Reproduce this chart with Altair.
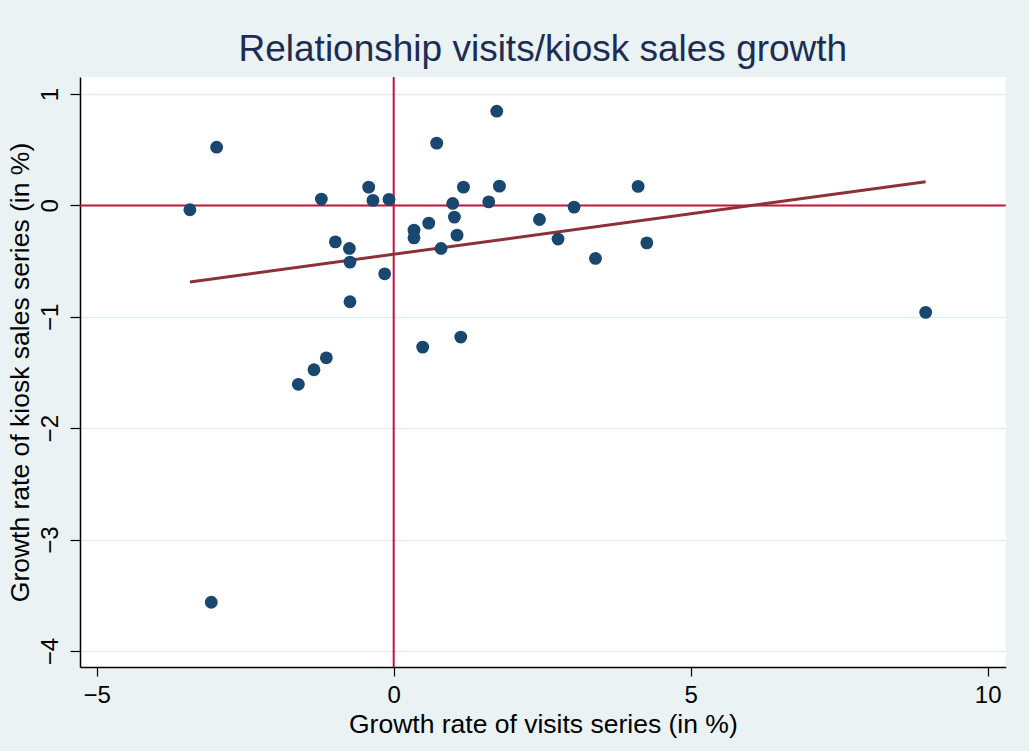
import altair as alt
import pandas as pd

# Growth rates (in %) of the visits series and the kiosk sales series
growth_visits = [
    -3.431, -2.981, -3.071, -1.605, -1.342, -1.134, -1.218, -0.982, -0.746,
    -0.736, -0.736, -0.421, -0.349, -0.079, -0.152, 0.342, 0.342, 0.488,
    0.590, 0.724, 0.797, 0.994, 1.022, 1.066, 1.129, 1.174, 1.600, 1.735,
    1.780, 2.454, 2.767, 3.037, 3.397, 4.115, 4.261, 8.956,
]
growth_kiosk = [
    -0.039, 0.523, -3.563, -1.606, -1.475, -1.368, 0.057, -0.327, -0.386,
    -0.509, -0.865, 0.164, 0.045, 0.054, -0.614, -0.222, -0.291, -1.272,
    -0.159, 0.559, -0.386, 0.018, -0.105, -0.267, -1.182, 0.164, 0.032, 0.846,
    0.173, -0.126, -0.302, -0.015, -0.476, 0.171, -0.336, -0.960,
]

# Axis ticks and reference lines
x_ticks = [-5, 0, 5, 10]
y_ticks = [-4, -3, -2, -1, 0, 1]
x_reference = [0]
y_reference = [0]

FONT = "Liberation Sans"
NAVY = "#1A476F"
MAROON = "#8E3039"
CRIMSON = "#C41439"
BG = "#EAF2F3"

df = pd.DataFrame({"visits": growth_visits, "kiosk": growth_kiosk})
xref = pd.DataFrame({"v": x_reference})
yref = pd.DataFrame({"k": y_reference})

x_scale = alt.Scale(domain=[-5.281, 10.303], nice=False, zero=False)
y_scale = alt.Scale(domain=[-4.144, 1.153], nice=False, zero=False)

x_axis = alt.Axis(
    title="Growth rate of visits series (in %)",
    values=x_ticks,
    format="d",
    grid=False,
    tickSize=9,
    labelPadding=7,
    titleY=65,
    titleBaseline="alphabetic",
)
y_axis = alt.Axis(
    title="Growth rate of kiosk sales series (in %)",
    values=y_ticks,
    format="d",
    grid=True,
    tickSize=10,
    labelAngle=270,
    labelAlign="center",
    labelBaseline="alphabetic",
    labelPadding=13,
    titleX=-52,
    titleY=295,
    titleBaseline="alphabetic",
)

base = alt.Chart(df)

# Reference lines at zero growth on both axes
vline = alt.Chart(xref).mark_rule(color=CRIMSON, strokeWidth=2).encode(
    x=alt.X("v:Q", scale=x_scale, axis=x_axis)
)
hline = alt.Chart(yref).mark_rule(color=CRIMSON, strokeWidth=2).encode(
    y=alt.Y("k:Q", scale=y_scale, axis=y_axis)
)

# Linear fit of kiosk sales growth on visits growth
fit = base.transform_regression("visits", "kiosk").mark_line(
    color=MAROON, strokeWidth=3
).encode(
    x=alt.X("visits:Q", scale=x_scale, axis=x_axis),
    y=alt.Y("kiosk:Q", scale=y_scale, axis=y_axis),
)

points = base.mark_circle(size=165, color=NAVY, opacity=1).encode(
    x=alt.X("visits:Q", scale=x_scale, axis=x_axis),
    y=alt.Y("kiosk:Q", scale=y_scale, axis=y_axis),
)

chart = (
    alt.layer(vline, hline, fit, points)
    .properties(
        width=925.7,
        height=590,
        padding={"left": 80, "top": 77, "right": 23.3, "bottom": 84},
        autosize=alt.AutoSizeParams(type="none"),
        title=alt.TitleParams(
            "Relationship visits/kiosk sales growth",
            font=FONT,
            fontSize=37,
            fontWeight="normal",
            color="#1C2D55",
            anchor="middle",
            baseline="alphabetic",
            offset=-22,
        ),
    )
    .configure(background=BG)
    .configure_view(fill="white", stroke=None)
    .configure_axis(
        labelFont=FONT,
        titleFont=FONT,
        labelFontSize=24,
        titleFontSize=26.5,
        titleFontWeight="normal",
        labelColor="#000000",
        titleColor="#000000",
        domainColor="#000000",
        domainWidth=1.5,
        tickColor="#000000",
        tickWidth=1.2,
        gridColor="#E4EDEF",
        gridWidth=1.6,
        labelOverlap=False,
    )
)

chart.save("out.html", embed_options={"renderer": "svg", "actions": False})
